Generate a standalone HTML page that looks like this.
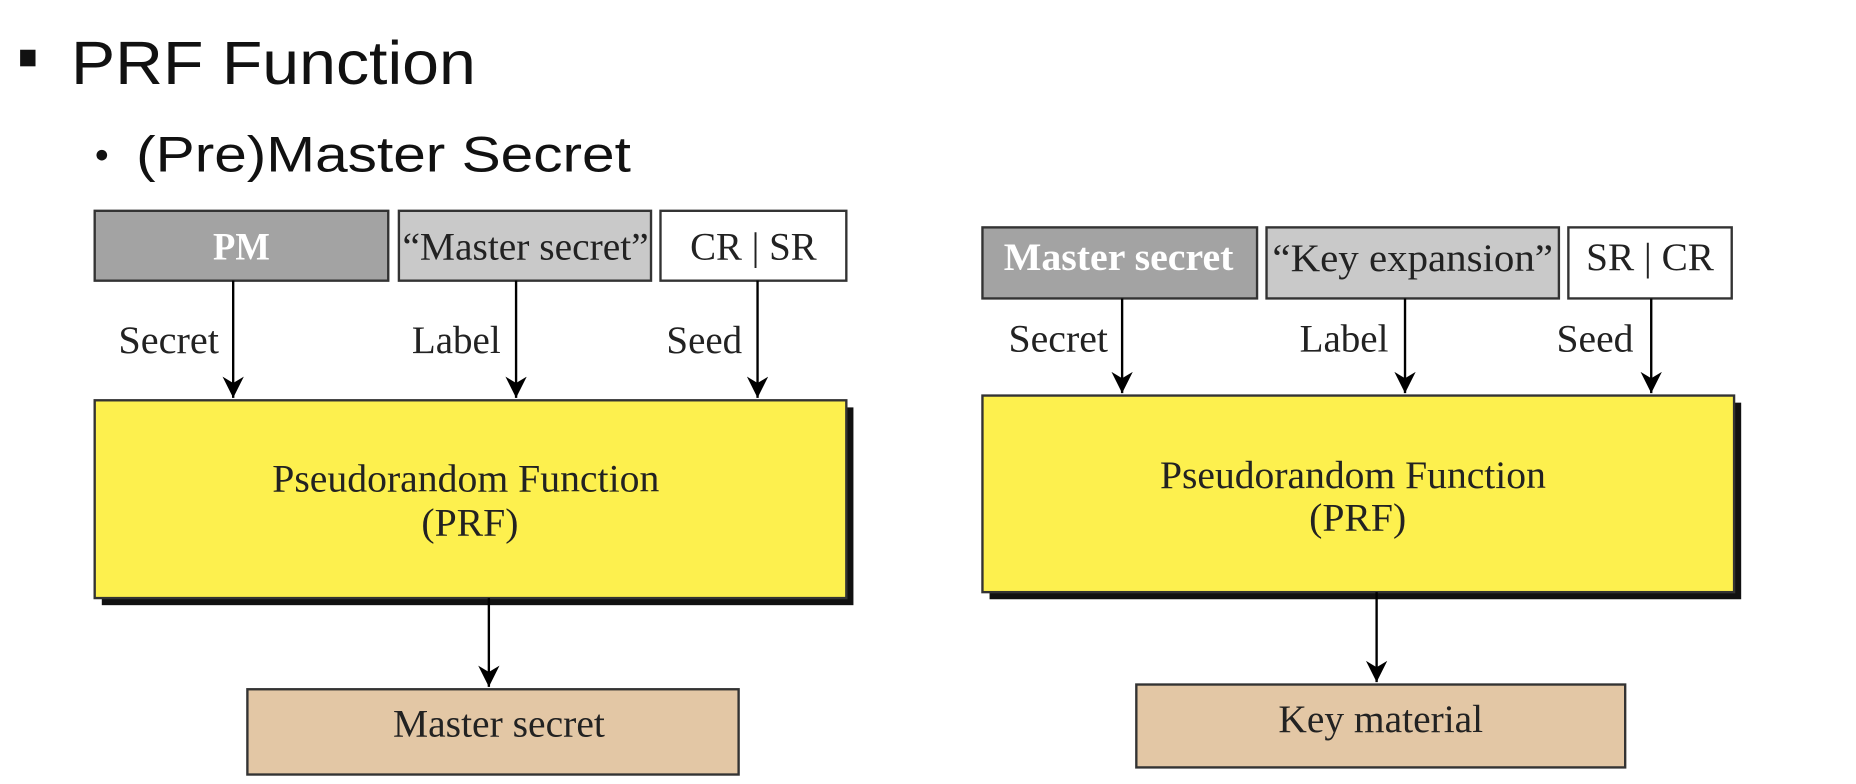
<!DOCTYPE html>
<html><head><meta charset="utf-8"><style>
html,body{margin:0;padding:0;background:#fff;width:1856px;height:784px;overflow:hidden}
svg{display:block}
.s{font-family:"Liberation Serif",serif;}
.a{font-family:"Liberation Sans",sans-serif;}
</style></head><body>
<svg width="1856" height="784" viewBox="0 0 1568 662" preserveAspectRatio="none" xmlns="http://www.w3.org/2000/svg">
<defs><marker id="ar" viewBox="0 0 10 10" refX="10" refY="5" markerWidth="18" markerHeight="18" markerUnits="userSpaceOnUse" orient="auto"><path d="M0,0 L10,5 L0,10 L3,5 z" fill="#000"/></marker></defs>
<rect x="17" y="42" width="13" height="14" fill="#111"/>
<text class="a" x="60" y="71" font-size="52" fill="#111" textLength="342" lengthAdjust="spacingAndGlyphs">PRF Function</text>
<circle cx="86" cy="131" r="4.5" fill="#111"/>
<text class="a" x="115" y="145" font-size="42" fill="#111" textLength="418" lengthAdjust="spacingAndGlyphs">(Pre)Master Secret</text>

<g stroke="#333" stroke-width="2">
<rect x="80" y="178" width="248" height="59" fill="#a3a3a3"/>
<rect x="337" y="178" width="213" height="59" fill="#c9c9c9"/>
<rect x="558" y="178" width="157" height="59" fill="#fff"/>
<rect x="86" y="344" width="635" height="167" fill="#111" stroke="none"/>
<rect x="80" y="338" width="635" height="167" fill="#fdf04e"/>
<rect x="209" y="582" width="415" height="72" fill="#e3c7a5"/>

<rect x="830" y="192" width="232" height="60" fill="#a3a3a3"/>
<rect x="1070" y="192" width="247" height="60" fill="#c9c9c9"/>
<rect x="1325" y="192" width="138" height="60" fill="#fff"/>
<rect x="836" y="340" width="635" height="166" fill="#111" stroke="none"/>
<rect x="830" y="334" width="635" height="166" fill="#fdf04e"/>
<rect x="960" y="578" width="413" height="70" fill="#e3c7a5"/>
</g>
<g stroke="#000" stroke-width="2" marker-end="url(#ar)">
<line x1="197" y1="237" x2="197" y2="336"/>
<line x1="436" y1="237" x2="436" y2="336"/>
<line x1="640" y1="237" x2="640" y2="336"/>
<line x1="413" y1="505" x2="413" y2="580"/>
<line x1="948" y1="252" x2="948" y2="332"/>
<line x1="1187" y1="252" x2="1187" y2="332"/>
<line x1="1395" y1="252" x2="1395" y2="332"/>
<line x1="1163" y1="500" x2="1163" y2="576"/>
</g>
<g class="s" font-size="33" fill="#222">
<text x="180" y="219" fill="#fff" font-weight="bold" textLength="48" lengthAdjust="spacingAndGlyphs">PM</text>
<text x="340" y="219" textLength="208" lengthAdjust="spacingAndGlyphs">“Master secret”</text>
<text x="583" y="219" textLength="107" lengthAdjust="spacingAndGlyphs">CR | SR</text>
<text x="100" y="298" textLength="85" lengthAdjust="spacingAndGlyphs">Secret</text>
<text x="348" y="298" textLength="75" lengthAdjust="spacingAndGlyphs">Label</text>
<text x="563" y="298" textLength="64" lengthAdjust="spacingAndGlyphs">Seed</text>
<text x="230" y="415" textLength="327" lengthAdjust="spacingAndGlyphs">Pseudorandom Function</text>
<text x="356" y="452" textLength="82" lengthAdjust="spacingAndGlyphs">(PRF)</text>
<text x="332" y="622" textLength="179" lengthAdjust="spacingAndGlyphs">Master secret</text>

<text x="848" y="228" fill="#fff" font-weight="bold" textLength="194" lengthAdjust="spacingAndGlyphs">Master secret</text>
<text x="1075" y="229" textLength="237" lengthAdjust="spacingAndGlyphs">“Key expansion”</text>
<text x="1340" y="228" textLength="108" lengthAdjust="spacingAndGlyphs">SR | CR</text>
<text x="852" y="297" textLength="84" lengthAdjust="spacingAndGlyphs">Secret</text>
<text x="1098" y="297" textLength="75" lengthAdjust="spacingAndGlyphs">Label</text>
<text x="1315" y="297" textLength="65" lengthAdjust="spacingAndGlyphs">Seed</text>
<text x="980" y="412" textLength="326" lengthAdjust="spacingAndGlyphs">Pseudorandom Function</text>
<text x="1106" y="448" textLength="82" lengthAdjust="spacingAndGlyphs">(PRF)</text>
<text x="1080" y="618" textLength="173" lengthAdjust="spacingAndGlyphs">Key material</text>
</g>
</svg>
</body></html>
